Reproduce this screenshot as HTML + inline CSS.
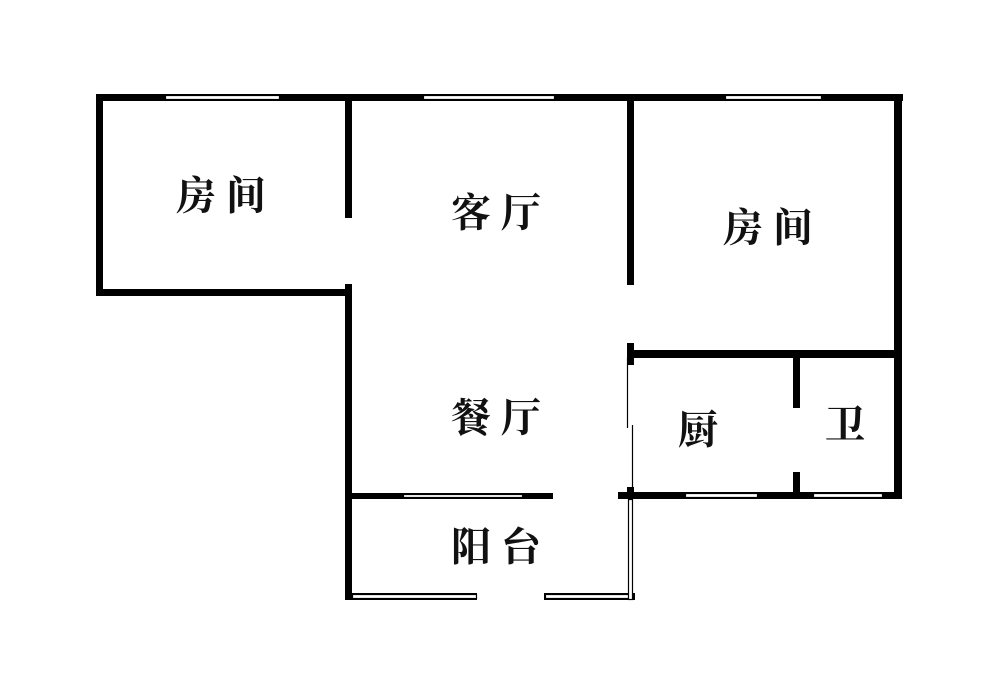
<!DOCTYPE html>
<html><head><meta charset="utf-8"><style>
html,body{margin:0;padding:0;background:#fff;}
svg{display:block;}
text{font-family:"Liberation Serif","Noto Serif CJK SC",serif;font-size:40px;font-weight:bold;fill:#111;text-anchor:middle;dominant-baseline:central;}
</style></head><body>
<svg width="1000" height="694" viewBox="0 0 1000 694">
<g fill="#000">
<rect x="96" y="94" width="807" height="7"/>
<rect x="96" y="94" width="7" height="202"/>
<rect x="96" y="289" width="256" height="7"/>
<rect x="345" y="94" width="7" height="124"/>
<rect x="345" y="284" width="7" height="316"/>
<rect x="627" y="94" width="7" height="191"/>
<rect x="894" y="94" width="8" height="405"/>
<rect x="627" y="350" width="275" height="8"/>
<rect x="627" y="343" width="7" height="22"/>
<rect x="793" y="358" width="7" height="50"/>
<rect x="793" y="472" width="7" height="27"/>
<rect x="618" y="492" width="284" height="7"/>
<rect x="627" y="487" width="7" height="12"/>
<rect x="345" y="493" width="208" height="6"/>
<rect x="345" y="593" width="132" height="7"/>
<rect x="544" y="593" width="91" height="7"/>
</g>
<g fill="#fff" stroke="#000" stroke-width="1.2">
<rect x="165.5" y="95.5" width="114" height="4"/>
<rect x="423.5" y="95.5" width="131" height="4"/>
<rect x="725.5" y="95.5" width="96" height="4"/>
<rect x="403.5" y="494.5" width="119" height="3"/>
<rect x="685.5" y="493.5" width="72" height="4"/>
<rect x="813.5" y="493.5" width="69" height="4"/>
<rect x="352.5" y="594.5" width="124" height="4"/>
<rect x="545.5" y="594.5" width="84" height="4"/>
<rect x="628.5" y="499.5" width="4" height="100"/>
</g>
<g stroke="#000" stroke-width="1.2">
<line x1="627.5" y1="358" x2="627.5" y2="428"/>
<line x1="632.5" y1="425" x2="632.5" y2="493"/>
</g>
<text x="221" y="196">房 间</text>
<text x="496" y="213">客 厅</text>
<text x="768" y="228">房 间</text>
<text x="496" y="418">餐 厅</text>
<text x="698" y="430">厨</text>
<text x="845" y="425">卫</text>
<text x="496" y="547">阳 台</text>
</svg>
</body></html>
